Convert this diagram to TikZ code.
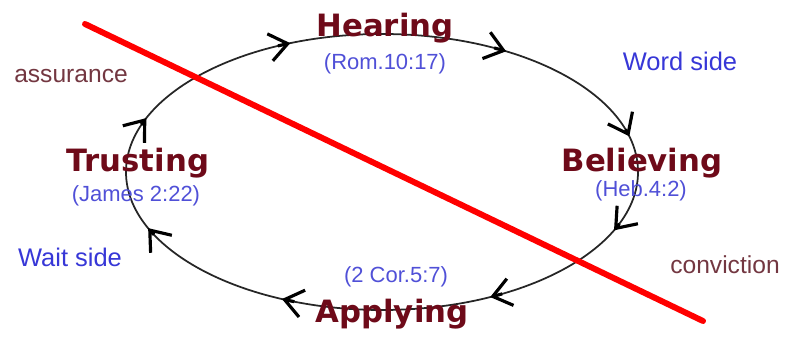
\documentclass[tikz,border=0pt]{standalone}
\usepackage{fontspec}
\setmainfont{Liberation Sans}
\newfontfamily\stagefont{DejaVu Sans}
\usepackage{xcolor}
\definecolor{stagered}{RGB}{110, 10, 25}
\definecolor{verseblue}{RGB}{80, 80, 215}
\definecolor{sideblue}{RGB}{55, 55, 215}
\definecolor{notebrown}{RGB}{115, 55, 65}
\usetikzlibrary{
  arrows.meta,
  positioning,
  calc
}

\begin{document}
\begin{tikzpicture}[
  x=0.02cm, y=0.02cm,
  stage/.style={
    text=stagered, anchor=base, inner sep=0pt,
    font=\stagefont\bfseries\fontsize{17.5}{20}\selectfont
  },
  verse/.style={
    text=verseblue, anchor=base, inner sep=0pt,
    font=\fontsize{12.5}{15}\selectfont
  },
  sidelabel/.style={
    text=sideblue, anchor=base, inner sep=0pt,
    font=\fontsize{14.5}{17}\selectfont
  },
  note/.style={
    text=notebrown, anchor=base, inner sep=0pt,
    font=\fontsize{14}{17}\selectfont
  },
  cycleline/.style={draw=black!85, line width=1pt},
  cyclearrow/.style={-{Straight Barb[length=3.6mm, width=5.5mm]}, draw=black, line width=1.8pt},
  crossline/.style={draw=red, line width=3.4pt, line cap=round}
]
\useasboundingbox (0,0) rectangle (786,341);
\coordinate (c) at (382,169);
% the cycle
\draw[cycleline] (c) ellipse [x radius=256, y radius=138];
\foreach \a in {111, 61, 15, -25, -65, -113, -156, 157}
  \draw[cyclearrow] ($(c)+({\a+3}:256 and 138)$) arc [start angle=\a+3, end angle=\a, x radius=256, y radius=138];
% the dividing line
\coordinate (cross start) at (85,317);
\coordinate (cross end) at (703,20);
\draw[crossline] (cross start) -- (cross end);
% stages
\node[stage] (hearing)   at (385,304) {Hearing};
\node[verse] (rom)       at (385,271) {(Rom.10:17)};
\node[stage] (believing) at (642,169) {Believing};
\node[verse] (heb)       at (641,144) {(Heb.4:2)};
\node[stage] (applying)  at (392,19)  {Applying};
\node[verse] (cor)       at (396,58)  {(2 Cor.5:7)};
\node[stage] (trusting)  at (138,169) {Trusting};
\node[verse] (james)     at (136,139) {(James 2:22)};
% sides
\node[note]      (assurance)  at (71,258)  {assurance};
\node[sidelabel] (word side)  at (680,270) {Word side};
\node[sidelabel] (wait side)  at (70,74)   {Wait side};
\node[note]      (conviction) at (725,68)  {conviction};
\end{tikzpicture}
\end{document}
